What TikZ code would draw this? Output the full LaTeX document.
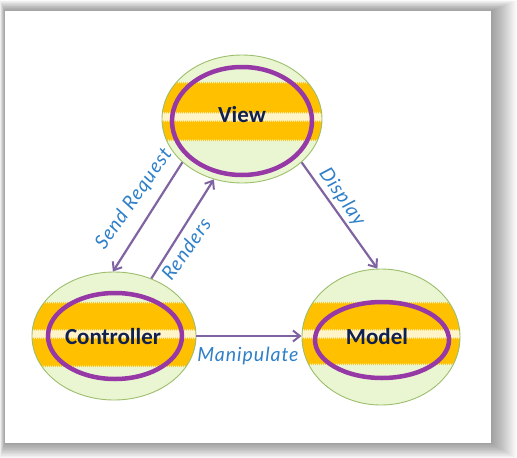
\documentclass[tikz,border=0pt]{standalone}
\usepackage{fontspec}
\setmainfont{Carlito}
\newfontfamily\handfont[LetterSpace=5]{Lato Italic}
\usetikzlibrary{shapes.geometric,arrows.meta,decorations.pathmorphing}
\definecolor{bgreen}{HTML}{EAF6D2}
\definecolor{bborder}{HTML}{9DBE6C}
\definecolor{borange}{HTML}{FFC000}
\definecolor{bcream}{HTML}{FFF3C8}
\definecolor{ring}{HTML}{9638A6}
\definecolor{arrowc}{HTML}{8064A2}
\definecolor{lblue}{HTML}{2F80C8}
\definecolor{navy}{HTML}{10204F}
\tikzset{
  outerell/.style={ellipse, draw=bborder, line width=0.9pt, inner sep=0pt},
  ringstyle/.style={draw=ring, line width=4.5pt},
  nodetext/.style={font=\bfseries\fontsize{23}{25}\selectfont, text=navy, inner sep=0pt},
  conn/.style={draw=arrowc, line width=2.2pt, -{Straight Barb[length=7pt,width=11pt,line width=2pt]}},
  lbl/.style={font=\handfont\fontsize{19.5}{21}\selectfont, text=lblue, inner sep=0pt},
  jag/.style={decorate, decoration={zigzag, segment length=2pt, amplitude=1.2pt}}
}
\newcommand{\mvcblob}[8]{%
  % #1 name, #2 cx, #3 cy, #4 rx, #5 ry, #6 band top, #7 band bottom, #8 stripe y
  \begin{scope}
    \clip (#2,#3) ellipse [x radius=#4pt, y radius=#5pt];
    \fill[bgreen] (#2-#4,#3-#5) rectangle (#2+#4,#3+#5);
    \fill[borange, jag] (#2-#4-5,#6) -- (#2+#4+5,#6) -- (#2+#4+5,#7) -- (#2-#4-5,#7) -- cycle;
    \draw[bcream, line width=3pt, jag] (#2-#4-5,#8) -- (#2+#4+5,#8);
  \end{scope}
  \node[outerell, minimum width=2*#4pt, minimum height=2*#5pt] (#1) at (#2,#3) {};
}
\begin{document}
\begin{tikzpicture}[x=1pt,y=-1pt]
\useasboundingbox (0,0) rectangle (517,458);
\fill[white] (0,0) rectangle (517,458);
% card shadow
\foreach \i in {1,...,26} {
  \fill[black, opacity=0.015] (5-0.2*\i, 11-0.42*\i) rectangle (491+1.0*\i, 443+0.6*\i);
}
\fill[white] (5,11) rectangle (491,443);

% blobs
\mvcblob{view}{242}{119}{80}{64}{83}{140}{117}
\mvcblob{controller}{114}{336}{82}{64}{303}{366}{334}
\mvcblob{model}{381}{337}{79}{68}{303}{364}{334}

% inner rings
\draw[ringstyle] (242,121) ellipse [x radius=70pt, y radius=54pt];
\draw[ringstyle] (115,336) ellipse [x radius=67pt, y radius=43pt];
\draw[ringstyle] (382,340) ellipse [x radius=67pt, y radius=38pt];

% node texts
\node[nodetext] (viewtext) at (242,115) {View};
\node[nodetext] (controllertext) at (113,337) {Controller};
\node[nodetext] (modeltext) at (377,337) {Model};

% connectors
\draw[conn] (view.216) -- (controller.91);
\draw[conn] (controller.57) -- (view.245);
\draw[conn] (view.324) -- (model.93);
\draw[conn] (controller.east) -- (controller.east -| model.west);

% labels
\node[lbl, rotate=55] (lsend) at (134,199) {Send Request};
\node[lbl, rotate=55] (lrenders) at (186,249) {Renders};
\node[lbl, rotate=-55] (ldisplay) at (342,197) {Display};
\node[lbl] (lmanip) at (248,356) {Manipulate};
\end{tikzpicture}
\end{document}
